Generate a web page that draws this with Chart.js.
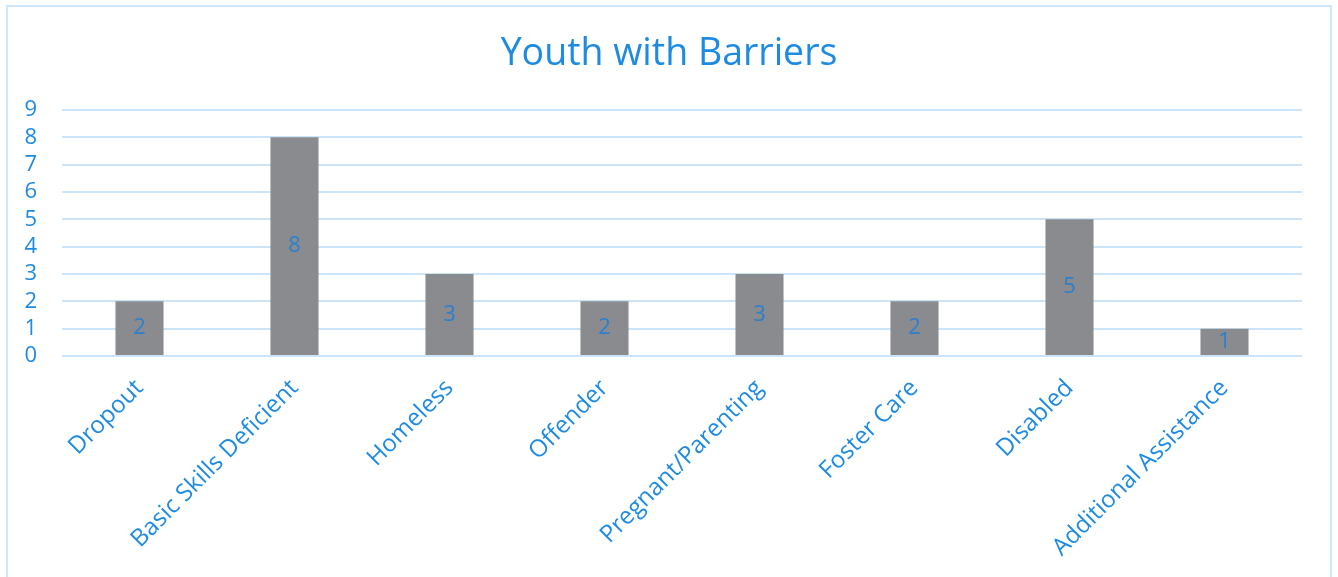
<!DOCTYPE html>
<html>
<head>
    <title>Youth with Barriers</title>
    <script src="https://cdn.jsdelivr.net/npm/chart.js"></script>
    <style>
        body { margin: 0; background: #fff; overflow: hidden; }
        #frame {
            position: absolute; left: 6px; top: 5px;
            width: 1322px; height: 640px;
            border: 2px solid #cfe5f8; border-bottom: none;
        }
        #wrap { position: absolute; left: 0; top: 0; width: 1338px; height: 577px; }
    </style>
</head>
<body>
    <div id="frame"></div>
    <div id="wrap"><canvas id="Chart"></canvas></div>
    <script>
        // categories and counts
        var categories = ['Dropout', 'Basic Skills Deficient', 'Homeless', 'Offender',
            'Pregnant/Parenting', 'Foster Care', 'Disabled', 'Additional Assistance'];
        var counts = [2, 8, 3, 2, 3, 2, 5, 1];
        var yTicks = [0, 1, 2, 3, 4, 5, 6, 7, 8, 9];

        var blue = '#1e8be3';

        // writes the value in the middle of each bar
        var barLabels = {
            id: 'barLabels',
            afterDatasetsDraw: function(chart) {
                var ctx = chart.ctx;
                var meta = chart.getDatasetMeta(0);
                ctx.save();
                ctx.fillStyle = '#2a7fcf';
                ctx.font = '22px "Open Sans"';
                ctx.textAlign = 'center';
                ctx.textBaseline = 'middle';
                meta.data.forEach(function(bar, i) {
                    ctx.fillText(counts[i], bar.x, (bar.y + bar.base) / 2);
                });
                ctx.restore();
            }
        };

        var ctx = document.getElementById('Chart').getContext('2d');
        var chart = new Chart(ctx, {
            type: 'bar',
            data: {
                labels: categories,
                datasets: [{
                    label: 'Youth with Barriers',
                    data: counts,
                    backgroundColor: '#8a8b8f',
                    barPercentage: 0.31,
                    categoryPercentage: 1
                }]
            },
            options: {
                responsive: true,
                maintainAspectRatio: false,
                animation: false,
                // equal side padding keeps the title centred on the page
                layout: { padding: { left: 20, right: 20, top: 0, bottom: 0 } },
                plugins: {
                    legend: { display: false },
                    tooltip: { enabled: false },
                    title: {
                        display: true,
                        text: 'Youth with Barriers',
                        color: blue,
                        font: { family: 'Open Sans', size: 37.5, weight: 'normal' },
                        padding: { top: 32, bottom: 33 }
                    }
                },
                scales: {
                    x: {
                        afterFit: function(scale) { scale.height = 221; },
                        grid: { display: false },
                        border: { display: false },
                        ticks: {
                            color: blue,
                            font: { family: 'Open Sans', size: 24 },
                            minRotation: 45,
                            maxRotation: 45,
                            padding: 10
                        }
                    },
                    y: {
                        min: 0,
                        max: 9,
                        afterBuildTicks: function(scale) {
                            scale.ticks = yTicks.map(function(v) { return { value: v }; });
                        },
                        afterFit: function(scale) { scale.width = 42; },
                        grid: { color: '#cce4f7', lineWidth: 2, drawTicks: false },
                        border: { display: false },
                        ticks: {
                            autoSkip: false,
                            color: blue,
                            font: { family: 'Open Sans', size: 22 },
                            padding: 25
                        }
                    },
                    // empty right-hand gutter
                    gutter: {
                        type: 'linear',
                        position: 'right',
                        afterFit: function(scale) { scale.width = 16; },
                        grid: { display: false },
                        border: { display: false },
                        ticks: { display: false }
                    }
                }
            },
            plugins: [barLabels]
        });
    </script>
</body>
</html>
